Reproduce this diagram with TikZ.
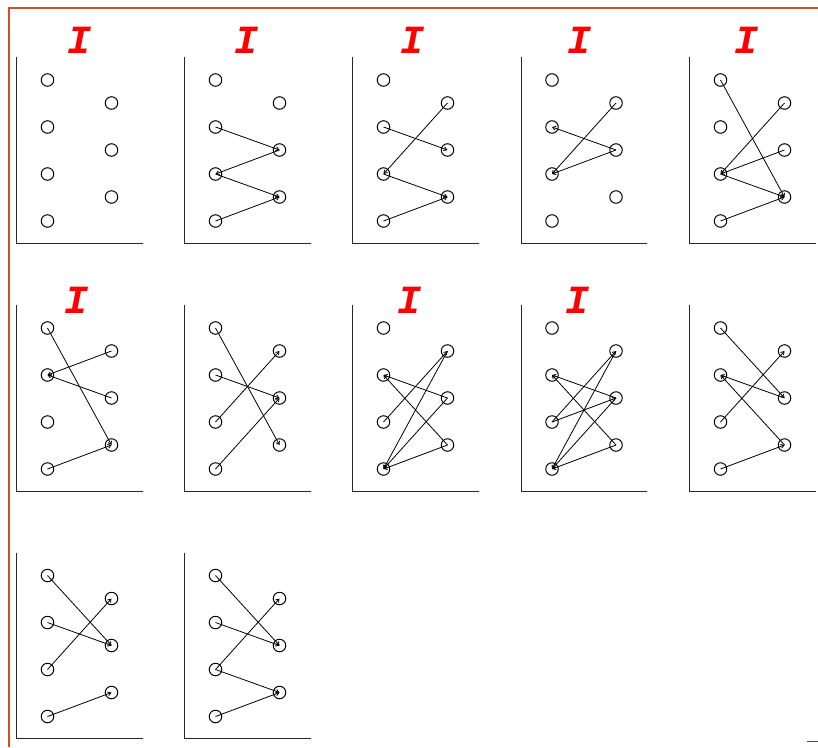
\documentclass[tikz,border=0pt]{standalone}
\usepackage{fontspec}
\newfontfamily\markfont{Liberation Mono}
\usetikzlibrary{arrows.meta}
\definecolor{frameOrange}{RGB}{214,78,30}
\definecolor{markRed}{RGB}{255,0,0}

% one panel: axis plus left column (4) and right column (3) of vertices
\newcommand{\graphpanel}[3]{%
  \draw[axis] (#2,#3) -- (#2,#3+186) -- (#2+126,#3+186);
  \foreach \k/\dy in {1/23,2/70,3/117,4/164}
    \node[vtx] (#1-L\k) at (#2+31,#3+\dy) {};
  \foreach \k/\dy in {1/46,2/93,3/140}
    \node[vtx] (#1-R\k) at (#2+95,#3+\dy) {};
}
\newcommand{\paneledges}[2]{%
  \foreach \a/\b in {#2}
    \draw[edge] (#1-\a.center) -- (#1-\b.center);
}

\begin{document}
\begin{tikzpicture}[x=1pt, y=-1pt,
  axis/.style={draw=black!85, line width=1pt},
  vtx/.style={circle, draw, line width=1pt, minimum size=12.5pt, inner sep=0pt},
  edge/.style={-{Straight Barb[length=3pt, width=4pt]}, line width=0.8pt},
  frame/.style={draw=frameOrange, line width=1.5pt},
  ilabel/.style={text=markRed, inner sep=0pt,
                 font=\markfont\bfseries\itshape\fontsize{40}{40}\selectfont},
]
  \useasboundingbox (0,0) rectangle (818,747);
  \draw[frame] (9,747) -- (9,8) -- (818,8);

  % row 1
  \graphpanel{pa}{16.5}{57}
  \graphpanel{pb}{184.5}{57}
  \graphpanel{pc}{352.5}{57}
  \graphpanel{pd}{521}{57}
  \graphpanel{pe}{689.5}{57}
  % row 2
  \graphpanel{pf}{16.5}{305}
  \graphpanel{pg}{184.5}{305}
  \graphpanel{ph}{352.5}{305}
  \graphpanel{pi}{521}{305}
  \graphpanel{pj}{689.5}{305}
  % row 3
  \graphpanel{pk}{16.5}{552.5}
  \graphpanel{pl}{184.5}{552.5}

  \paneledges{pb}{L2/R2, R2/L3, L3/R3, L4/R3}
  \paneledges{pc}{L2/R2, R1/L3, L3/R3, L4/R3}
  \paneledges{pd}{R2/L2, R1/L3, R2/L3}
  \paneledges{pe}{L1/R3, R1/L3, R2/L3, L3/R3, L4/R3}
  \paneledges{pf}{L1/R3, R1/L2, R2/L2, L4/R3}
  \paneledges{pg}{L1/R3, L3/R1, L2/R2, L4/R2}
  \paneledges{ph}{R2/L2, R3/L2, L3/R1, R1/L4, R2/L4, R3/L4}
  \paneledges{pi}{R2/L2, R3/L2, L3/R1, L3/R2, R1/L4, R2/L4, R3/L4}
  \paneledges{pj}{L1/R2, L3/R1, R2/L2, R3/L2, L4/R3}
  \paneledges{pk}{L1/R2, L2/R2, L3/R1, L4/R3}
  \paneledges{pl}{L1/R2, L2/R2, L3/R1, L3/R3, L4/R3}

  % red marks
  \node[ilabel] (ia) at (80,40) {I};
  \node[ilabel] (ib) at (246,40) {I};
  \node[ilabel] (ic) at (412,40) {I};
  \node[ilabel] (id) at (579,40) {I};
  \node[ilabel] (ie) at (746,40) {I};
  \node[ilabel] (if) at (77,300) {I};
  \node[ilabel] (ih) at (409,300) {I};
  \node[ilabel] (ii) at (577,300) {I};

  \draw[axis, draw=black!70] (807,741) -- (818,741);
\end{tikzpicture}
\end{document}
